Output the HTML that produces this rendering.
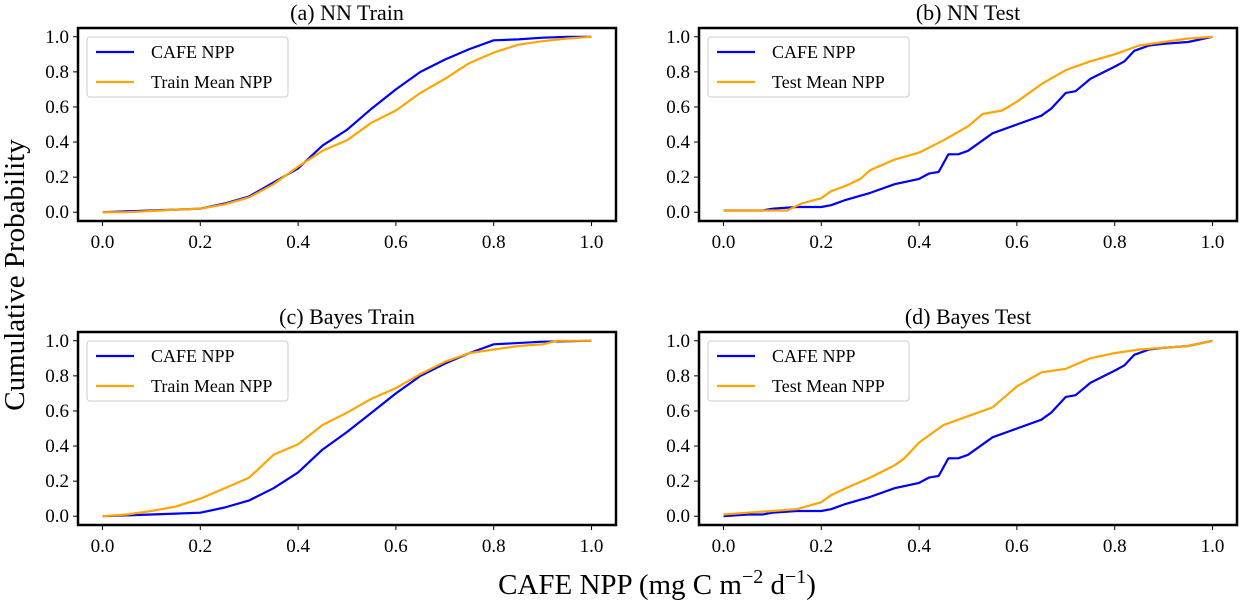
<!DOCTYPE html>
<html><head><meta charset="utf-8"><style>
body{margin:0;background:#fff}
svg{display:block}
svg text{font-family:"Liberation Serif","DejaVu Serif",serif}
</style></head><body>
<svg id="fig" width="1240" height="603" viewBox="0 0 1240 603" xmlns="http://www.w3.org/2000/svg" font-family="Liberation Serif, serif">
<text x="0" y="0" transform="translate(24,275) rotate(-90)" text-anchor="middle" font-size="29">Cumulative Probability</text>
<text x="657" y="594" text-anchor="middle" font-size="29">CAFE NPP (mg C m<tspan dy="-11" font-size="20">−2</tspan><tspan dy="11"> d</tspan><tspan dy="-11" font-size="20">−1</tspan><tspan dy="11">)</tspan></text>
</svg>
<script>
const tickVals=[0,0.2,0.4,0.6,0.8,1.0];
const tickLabels=["0.0","0.2","0.4","0.6","0.8","1.0"];
const titles=["(a) NN Train","(b) NN Test","(c) Bayes Train","(d) Bayes Test"];
const legendB=["Train Mean NPP","Test Mean NPP","Train Mean NPP","Test Mean NPP"];
const aCafeX=[0,.05,.1,.15,.2,.25,.3,.35,.4,.45,.5,.55,.6,.65,.7,.75,.8,.85,.9,.95,1];
const aCafeY=[0,.005,.01,.015,.02,.05,.09,.17,.25,.38,.47,.59,.70,.80,.87,.93,.98,.985,.995,1,1];
const aMeanX=[0,.05,.1,.15,.2,.25,.3,.35,.4,.45,.5,.55,.6,.65,.7,.75,.8,.85,.9,.95,1];
const aMeanY=[0,0,.007,.015,.02,.045,.085,.16,.26,.35,.41,.51,.58,.68,.76,.85,.91,.955,.975,.99,1];
const bCafeX=[0,.05,.08,.1,.15,.2,.22,.25,.3,.35,.4,.42,.44,.46,.48,.5,.55,.6,.65,.67,.7,.72,.75,.8,.82,.84,.87,.9,.95,1];
const bCafeY=[.01,.01,.01,.02,.03,.03,.04,.07,.11,.16,.19,.22,.23,.33,.33,.35,.45,.50,.55,.59,.68,.69,.76,.83,.86,.92,.95,.96,.97,1];
const bMeanX=[0,.13,.16,.2,.22,.25,.28,.3,.35,.4,.45,.5,.53,.57,.6,.65,.7,.75,.8,.85,.9,.95,1];
const bMeanY=[.01,.01,.05,.08,.12,.15,.19,.24,.30,.34,.41,.49,.56,.58,.63,.73,.81,.86,.90,.95,.97,.99,1];
const cCafeX=[0,.1,.15,.2,.25,.3,.35,.4,.45,.5,.55,.6,.65,.7,.75,.8,.9,1];
const cCafeY=[0,.01,.015,.02,.05,.09,.16,.25,.38,.48,.59,.70,.80,.87,.93,.98,.995,1];
const cMeanX=[0,.05,.1,.15,.2,.25,.3,.35,.4,.45,.5,.55,.6,.65,.7,.75,.8,.85,.9,.93,1];
const cMeanY=[0,.01,.03,.055,.10,.16,.22,.35,.41,.52,.59,.67,.73,.81,.88,.93,.95,.97,.98,1,1];
const dCafeX=[0,.05,.08,.1,.15,.2,.22,.25,.3,.35,.4,.42,.44,.46,.48,.5,.55,.6,.65,.67,.7,.72,.75,.8,.82,.84,.87,.9,.95,1];
const dCafeY=[0,.01,.01,.02,.03,.03,.04,.07,.11,.16,.19,.22,.23,.33,.33,.35,.45,.50,.55,.59,.68,.69,.76,.83,.86,.92,.95,.96,.97,1];
const dMeanX=[0,.05,.1,.15,.2,.22,.25,.3,.35,.37,.4,.45,.5,.55,.6,.65,.7,.75,.8,.85,.9,.95,1];
const dMeanY=[.01,.02,.03,.04,.08,.12,.16,.22,.29,.33,.42,.52,.57,.62,.74,.82,.84,.90,.93,.95,.96,.97,1];
const series=[[aCafeX,aCafeY,aMeanX,aMeanY],[bCafeX,bCafeY,bMeanX,bMeanY],[cCafeX,cCafeY,cMeanX,cMeanY],[dCafeX,dCafeY,dMeanX,dMeanY]];
const NS="http://www.w3.org/2000/svg";
const svg=document.getElementById('fig');
const FF='Liberation Serif, serif';
function mk(tag,attrs,parent){const e=document.createElementNS(NS,tag);for(const k in attrs)e.setAttribute(k,attrs[k]);(parent||svg).appendChild(e);return e;}
const boxes=[[78,28],[699,28],[78,332],[699,332]];
const W=538,H=193;
for(let p=0;p<4;p++){
  const [L,T]=boxes[p];
  const g=mk('g',{});
  
  
  const sx=v=>L+W*(v+0.05)/1.1;
  const sy=v=>T+H-H*(v+0.05)/1.1;
  const t=mk('text',{x:L+W/2,y:T-8,'text-anchor':'middle','font-size':22,'font-family':FF},g);
  t.textContent=titles[p];
  
  
  for(let i=0;i<tickVals.length;i++){
    const x=sx(tickVals[i]),y=sy(tickVals[i]);
    mk('line',{x1:x,x2:x,y1:T+H,y2:T+H+5,stroke:'#000','stroke-width':1},g);
    const xl=mk('text',{x:x,y:T+H+27,'text-anchor':'middle','font-size':19,'font-family':FF},g);
    xl.textContent=tickLabels[i];
    
    
    mk('line',{x1:L-5,x2:L,y1:y,y2:y,stroke:'#000','stroke-width':1},g);
    const yl=mk('text',{x:L-9,y:y+6,'text-anchor':'end','font-size':19,'font-family':FF},g);
    yl.textContent=tickLabels[i];
    
    
  }
  const s=series[p];
  const colors=['#0000ff','#ffa500'];
  for(let k=0;k<2;k++){
    const xs=s[k*2],ys=s[k*2+1];
    const pts=xs.map((v,i)=>sx(v).toFixed(1)+','+sy(ys[i]).toFixed(1)).join(' ');
    const pl=mk('polyline',{points:pts,fill:'none',stroke:colors[k],'stroke-width':2.2,'stroke-linejoin':'round'},g);
    
    
  }
  mk('rect',{x:L,y:T,width:W,height:H,fill:'none',stroke:'#000','stroke-width':2.5},g);
  const lg=mk('g',{},g);
  
  
  const lx=L+9,ly=T+9;
  mk('rect',{x:lx,y:ly,width:201,height:60,rx:3,fill:'#fff','fill-opacity':0.8,stroke:'#ccc','stroke-width':1},lg);
  const names=['CAFE NPP',legendB[p]];
  for(let k=0;k<2;k++){
    const yy=ly+15+k*30;
    mk('line',{x1:lx+9,x2:lx+47,y1:yy,y2:yy,stroke:colors[k],'stroke-width':2.2},lg);
    const tx=mk('text',{x:lx+64,y:yy+6,'font-size':18,'font-family':FF},lg);
    tx.textContent=names[k];
    
    
  }
}
</script>
</body></html>
